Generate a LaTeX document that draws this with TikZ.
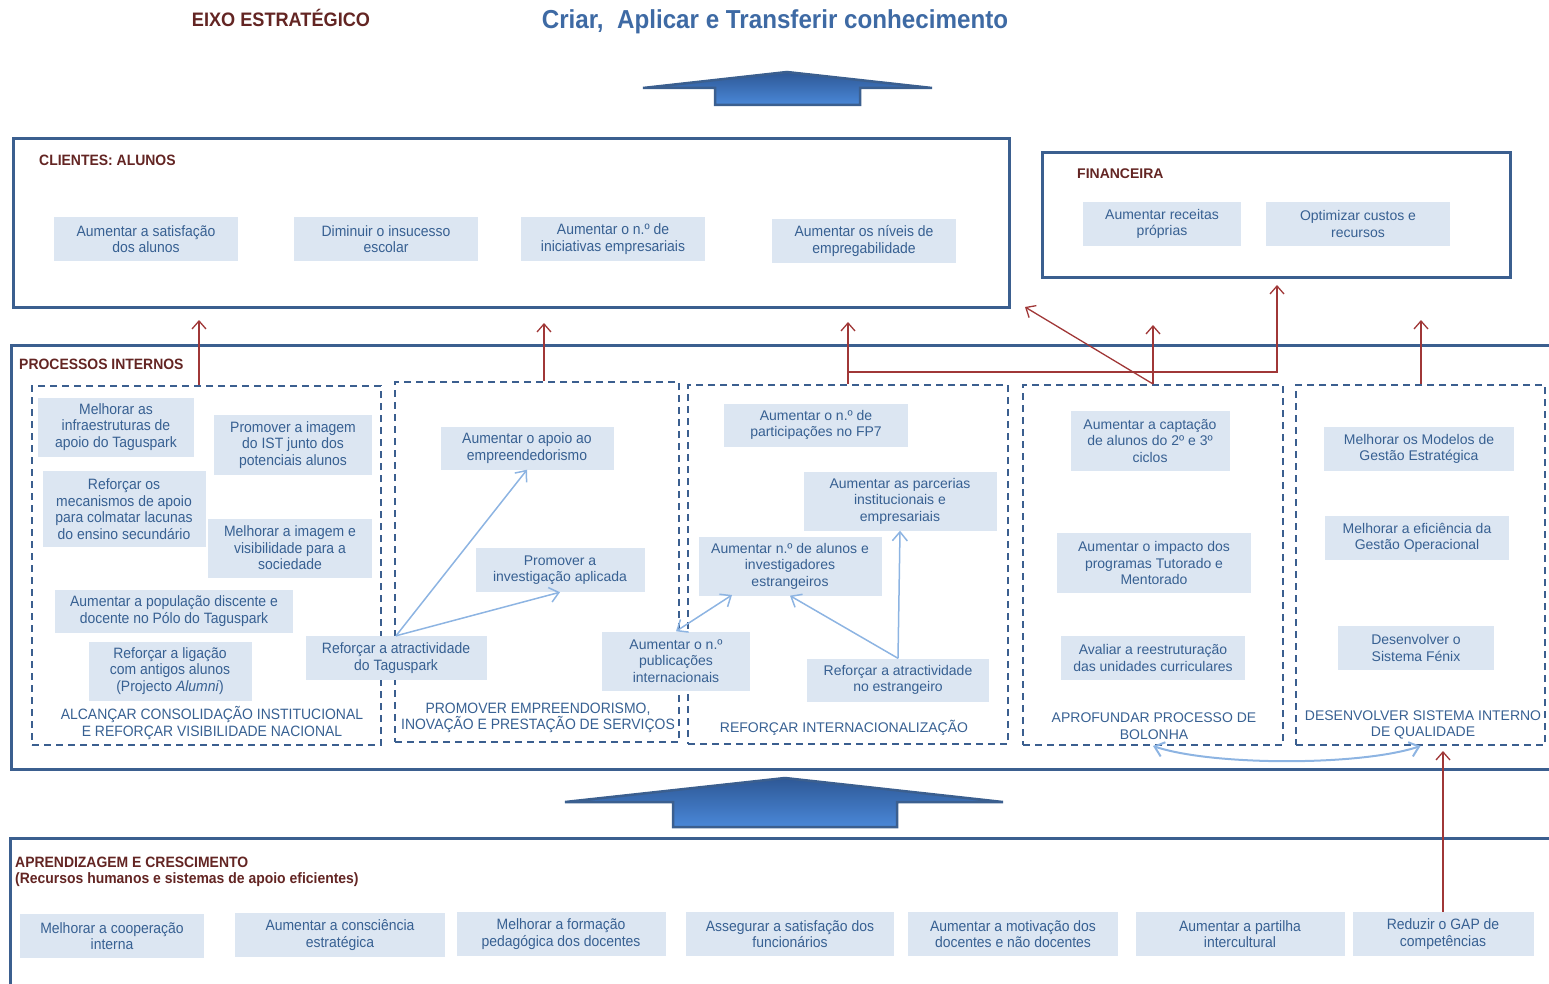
\documentclass[tikz,border=0pt]{standalone}
\usepackage{fontspec}
\setmainfont{Liberation Sans}
\newfontfamily\narrowfont[FakeStretch=0.93]{Liberation Sans}
\usetikzlibrary{arrows.meta,positioning,calc}
\definecolor{framblue}{RGB}{59,95,143}
\definecolor{boxblue}{RGB}{220,230,242}
\definecolor{txtblue}{RGB}{55,96,146}
\definecolor{headblue}{RGB}{62,106,164}
\definecolor{titred}{RGB}{99,37,35}
\definecolor{linkred}{RGB}{160,55,55}
\definecolor{linkblue}{RGB}{141,180,226}
\definecolor{arrtop}{RGB}{46,88,150}
\definecolor{arrbot}{RGB}{74,136,216}

\begin{document}
\begin{tikzpicture}[x=1pt, y=-1pt,
    obj/.style={fill=boxblue, text=txtblue, align=center, inner sep=2pt, font=\fontsize{14}{16.5}\selectfont},
    objn/.style={obj, font=\narrowfont\fontsize{15}{16.5}\selectfont},
    persp/.style={draw=framblue, line width=3pt},
    theme/.style={draw=framblue, line width=2pt, dash pattern=on 7pt off 5pt},
    ptitle/.style={text=titred, font=\narrowfont\bfseries\fontsize{15}{16}\selectfont, anchor=west, inner sep=0pt, align=left},
    ttitle/.style={text=txtblue, align=center, inner sep=0pt, font=\fontsize{14}{16.5}\selectfont},
    ttitlen/.style={ttitle, font=\narrowfont\fontsize{15}{16.5}\selectfont},
    redarr/.style={draw=linkred, line width=1.3pt, -{Straight Barb[length=8pt,width=14pt]}},
    blink/.style={draw=linkblue, line width=1.5pt},
    bluarr/.style={blink, -{Straight Barb[length=9pt,width=15pt]}},
    bluboth/.style={blink, {Straight Barb[length=9pt,width=15pt]}-{Straight Barb[length=9pt,width=15pt]}},
    bigarr/.style={draw=framblue, line width=2.5pt, top color=arrtop, bottom color=arrbot, line join=miter}
]
\useasboundingbox (0,0) rectangle (1549,984);

% === Eixo estrategico ===
\node[text=titred, font=\narrowfont\bfseries\fontsize{19.5}{22}\selectfont] (eixo) at (281,18) {EIXO ESTRATÉGICO};
\node[text=headblue, font=\narrowfont\bfseries\fontsize{26}{30}\selectfont] (criar) at (775,22) {Criar,\ \ Aplicar e Transferir conhecimento};
\draw[bigarr] (715,105) -- (715,88) -- (643,88) -- (787,72) -- (932,88) -- (860,88) -- (860,105) -- cycle;

% === Clientes ===
\node[persp, minimum width=996, minimum height=168] (cli) at (511,223) {};
\node[ptitle] (clit) at (39,160) {CLIENTES: ALUNOS};
\node[objn, minimum width=184, minimum height=44] (cs) at (146,239) {Aumentar a satisfação\\dos alunos};
\node[objn, minimum width=184, minimum height=44] (ci) at (386,239) {Diminuir o insucesso\\escolar};
\node[objn, minimum width=184, minimum height=44] (cn) at (613,239) {Aumentar o n.º de\\iniciativas empresariais};
\node[objn, minimum width=184, minimum height=44] (ce) at (864,241) {Aumentar os níveis de\\empregabilidade};

% === Financeira ===
\node[persp, minimum width=468, minimum height=124] (fin) at (1276,215) {};
\node[ptitle, font=\bfseries\fontsize{14}{16}\selectfont] (fint) at (1077,174) {FINANCEIRA};
\node[obj, minimum width=158, minimum height=44] (fr) at (1162,224) {Aumentar receitas\\próprias};
\node[obj, minimum width=184, minimum height=44] (fo) at (1358,224) {Optimizar custos e\\recursos};

% === Processos internos ===
\draw[persp] (1549,345) -- (11,345) -- (11,769) -- (1549,769);
\node[ptitle] (prot) at (19,364) {PROCESSOS INTERNOS};

\node[theme, minimum width=349, minimum height=359] (c1) at (206.5,565.5) {};
\node[theme, minimum width=284, minimum height=360] (c2) at (537,562) {};
\node[theme, minimum width=320, minimum height=359] (c3) at (848,564.5) {};
\node[theme, minimum width=260, minimum height=360] (c4) at (1153,565) {};
\node[theme, minimum width=249, minimum height=360] (c5) at (1420.5,565) {};

\node[ttitlen] (t1) at (212,723) {ALCANÇAR CONSOLIDAÇÃO INSTITUCIONAL\\E REFORÇAR VISIBILIDADE NACIONAL};
\node[ttitlen] (t2) at (538,718) {PROMOVER EMPREENDORISMO,\\INOVAÇÃO E PRESTAÇÃO DE SERVIÇOS};
\node[ttitle] (t3) at (844,728) {REFORÇAR INTERNACIONALIZAÇÃO};
\node[ttitle] (t4) at (1154,726) {APROFUNDAR PROCESSO DE\\BOLONHA};
\node[ttitle] (t5) at (1423,725) {DESENVOLVER SISTEMA INTERNO\\DE QUALIDADE};

% column 1
\node[objn, minimum width=156, minimum height=59] (inf) at (116,427) {Melhorar as\\infraestruturas de\\apoio do Taguspark};
\node[objn, minimum width=158, minimum height=60] (img) at (293,445) {Promover a imagem\\do IST junto dos\\potenciais alunos};
\node[objn, minimum width=163, minimum height=76] (mec) at (124,509) {Reforçar os\\mecanismos de apoio\\para colmatar lacunas\\do ensino secundário};
\node[objn, minimum width=164, minimum height=59] (vis) at (290,548) {Melhorar a imagem e\\visibilidade para a\\sociedade};
\node[objn, minimum width=238, minimum height=43] (pop) at (174,611) {Aumentar a população discente e\\docente no Pólo do Taguspark};
\node[objn, minimum width=163, minimum height=59] (alu) at (170,671) {Reforçar a ligação\\com antigos alunos\\(Projecto \textit{Alumni})};

% column 2
\node[objn, minimum width=173, minimum height=43] (emp) at (527,448) {Aumentar o apoio ao\\empreendedorismo};
\node[obj, minimum width=169, minimum height=44] (inv) at (560,570) {Promover a\\investigação aplicada};
\node[objn, minimum width=181, minimum height=44] (tag) at (396,658) {Reforçar a atractividade\\do Taguspark};
\draw[bluarr] (tag.north) -- (emp.south);
\draw[bluarr] (tag.north) -- (inv.south);

% column 3
\node[obj, minimum width=184, minimum height=43] (fp7) at (816,425) {Aumentar o n.º de\\participações no FP7};
\node[obj, minimum width=193, minimum height=59] (parc) at (900,501) {Aumentar as parcerias\\institucionais e\\empresariais};
\node[obj, minimum width=183, minimum height=59] (aest) at (790,566) {Aumentar n.º de alunos e\\investigadores\\estrangeiros};
\node[obj, minimum width=148, minimum height=59] (pub) at (676,661) {Aumentar o n.º\\publicações\\internacionais};
\node[obj, minimum width=182, minimum height=43] (rest) at (898,680) {Reforçar a atractividade\\no estrangeiro};
\coordinate (aestl) at (732,595);
\draw[bluboth] (pub.north) -- (aestl);
\draw[bluarr] (rest.north) -- (parc.south);
\draw[bluarr] (rest.north) -- (aest.south);

% column 4
\node[obj, minimum width=159, minimum height=60] (capt) at (1150,441) {Aumentar a captação\\de alunos do 2º e 3º\\ciclos};
\node[obj, minimum width=194, minimum height=60] (tut) at (1154,563) {Aumentar o impacto dos\\programas Tutorado e\\Mentorado};
\node[obj, minimum width=184, minimum height=44] (reest) at (1153,658) {Avaliar a reestruturação\\das unidades curriculares};

% column 5
\node[obj, minimum width=190, minimum height=44] (mod) at (1419,449) {Melhorar os Modelos de\\Gestão Estratégica};
\node[obj, minimum width=184, minimum height=44] (efi) at (1417,538) {Melhorar a eficiência da\\Gestão Operacional};
\node[obj, minimum width=156, minimum height=44] (fen) at (1416,648) {Desenvolver o\\Sistema Fénix};

\draw[bluboth, line width=2pt] (c4.south) .. controls +(60,20) and +(-60,20) .. (c5.south);

% links up to the perspectives
\coordinate (r1) at (199,320);
\coordinate (r2) at (544,323);
\coordinate (r3) at (848,322);
\coordinate (r4) at (1153,325);
\coordinate (r5) at (1421,320);
\coordinate (r3b) at (848,372);
\coordinate (rf) at (1277,285);
\coordinate (rc) at (1025,307);
\draw[redarr] (r1 |- c1.north) -- (r1);
\draw[redarr] (c2.north -| r2) -- (r2);
\draw[redarr] (c3.north) -- (r3);
\draw[redarr] (r3b) -| (rf);
\draw[redarr] (c4.north) -- (r4);
\draw[redarr] (c4.north) -- (rc);
\draw[redarr] (c5.north -| r5) -- (r5);

% === Aprendizagem e crescimento ===
\draw[bigarr] (673,827) -- (673,802) -- (565,802) -- (785,778) -- (1003,802) -- (897,802) -- (897,827) -- cycle;
\draw[persp] (1549,838) -- (10,838) -- (10,990);
\node[ptitle] (aprt) at (15,872) {APRENDIZAGEM E CRESCIMENTO\\(Recursos humanos e sistemas de apoio eficientes)};

\node[objn, minimum width=184, minimum height=44] (coop) at (112,936) {Melhorar a cooperação\\interna};
\node[objn, minimum width=210, minimum height=44] (cons) at (340,935) {Aumentar a consciência\\estratégica};
\node[objn, minimum width=209, minimum height=44] (form) at (561,934) {Melhorar a formação\\pedagógica dos docentes};
\node[objn, minimum width=208, minimum height=44] (sat) at (790,934) {Assegurar a satisfação dos\\funcionários};
\node[objn, minimum width=210, minimum height=44] (mot) at (1013,934) {Aumentar a motivação dos\\docentes e não docentes};
\node[objn, minimum width=209, minimum height=44] (part) at (1240,934) {Aumentar a partilha\\intercultural};
\node[objn, minimum width=181, minimum height=44] (gap) at (1443,934) {Reduzir o GAP de\\competências};
\coordinate (rg) at (1443,751);
\draw[redarr] (gap.north) -- (rg);

\end{tikzpicture}
\end{document}
